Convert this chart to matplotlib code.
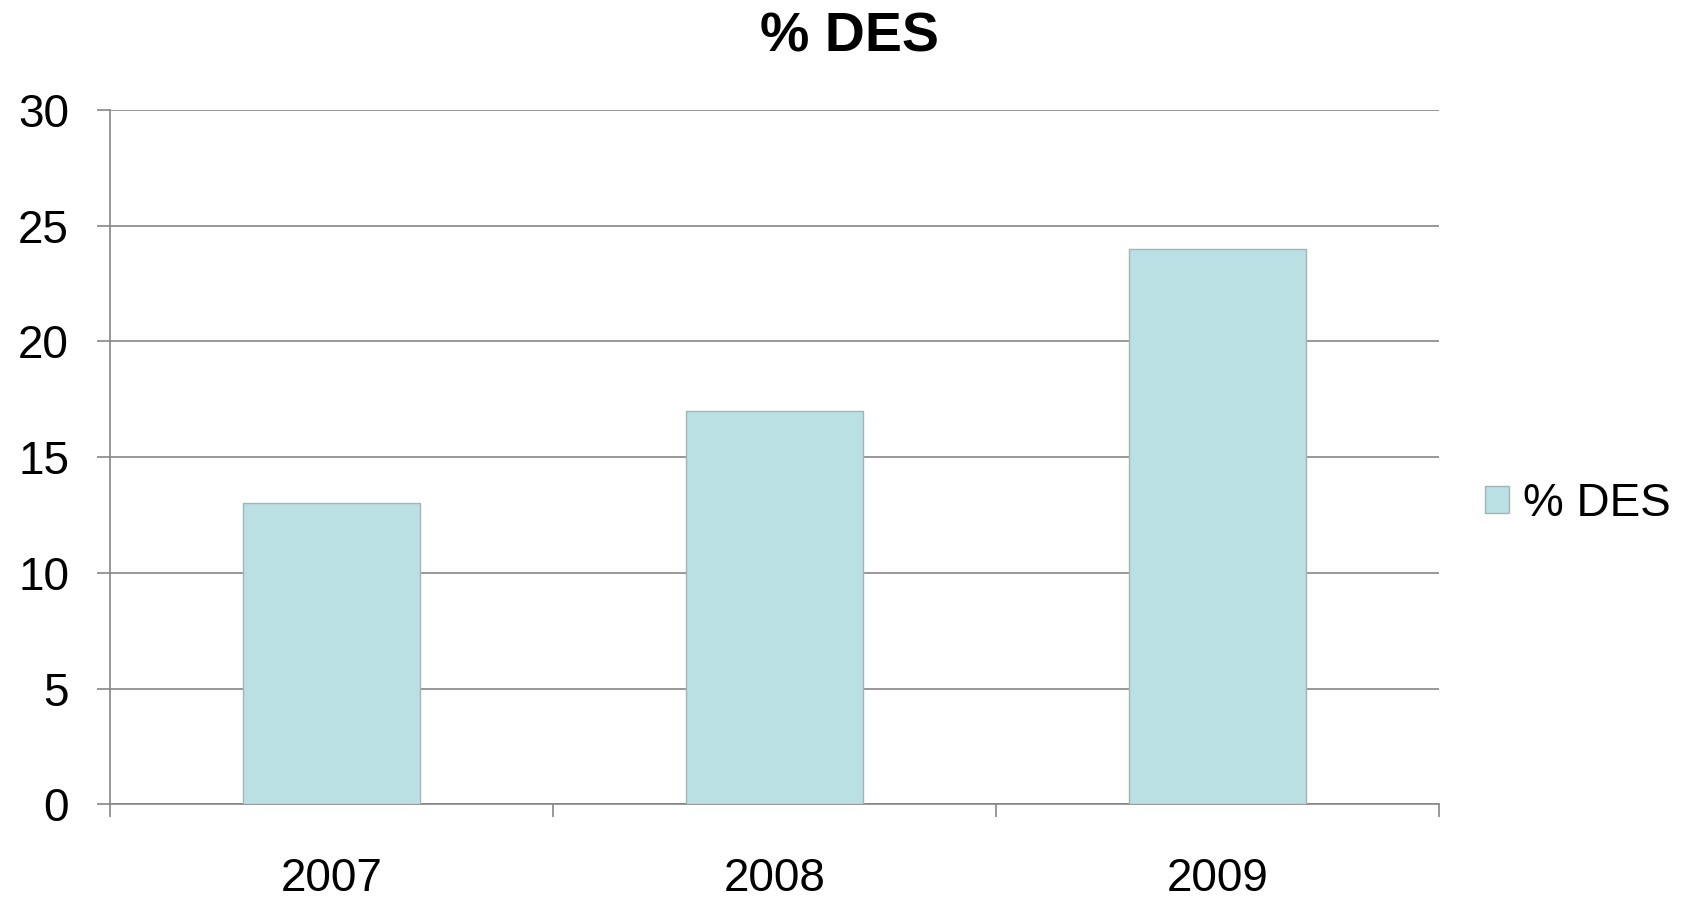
import matplotlib
matplotlib.use("Agg")
import matplotlib.pyplot as plt
import numpy as np

plt.rcParams['font.family'] = ['Liberation Sans', 'DejaVu Sans']

years = ["2007", "2008", "2009"]
des_pct = [13, 17, 24]
series_name = "% DES"
y_ticks = [0, 5, 10, 15, 20, 25, 30]

W, H, DPI = 1686, 898, 100
fig = plt.figure(figsize=(W / DPI, H / DPI), dpi=DPI)
fig.patch.set_facecolor("white")

left, right, top, bottom = 110, 1439, 110, 804.3
ax = fig.add_axes([left / W, (H - bottom) / H, (right - left) / W, (bottom - top) / H])

grid_c = "#868686"
bar_c = "#BBE0E3"
edge_c = "#A4B4B6"

x = np.arange(len(years))
ax.bar(x, des_pct, width=0.40, color=bar_c, edgecolor=edge_c, linewidth=1.0,
       label=series_name, zorder=3)

ax.set_xlim(-0.5, len(years) - 0.5)
ax.set_ylim(0, 30)
ax.set_yticks(y_ticks)
ax.set_yticklabels([str(v) for v in y_ticks])
ax.yaxis.grid(True, color=grid_c, linewidth=1.2, zorder=1)
ax.set_axisbelow(True)

ax.set_xticks(x)
ax.set_xticklabels(years)
ax.set_xticks(np.arange(-0.5, len(years)), minor=True)
ax.tick_params(axis="x", which="major", length=0, pad=38, labelsize=33)
ax.tick_params(axis="x", which="minor", length=9.5, width=1.2, color=grid_c)
ax.tick_params(axis="y", length=9.5, width=1.2, color=grid_c, pad=20, labelsize=33)

for s in ["top", "right"]:
    ax.spines[s].set_visible(False)
for s in ["left", "bottom"]:
    ax.spines[s].set_color(grid_c)
    ax.spines[s].set_linewidth(1.2)

fig.suptitle(series_name, x=0.504, y=1 - 12 / H, va="top", fontsize=40, fontweight="bold")

ax.legend(loc="center left", bbox_to_anchor=((1485 - left) / (right - left), 0.433),
          frameon=False, fontsize=33, handlelength=0.52, handleheight=0.52,
          handletextpad=0.3, borderaxespad=0, borderpad=0)

fig.savefig("out.png", dpi=DPI)
